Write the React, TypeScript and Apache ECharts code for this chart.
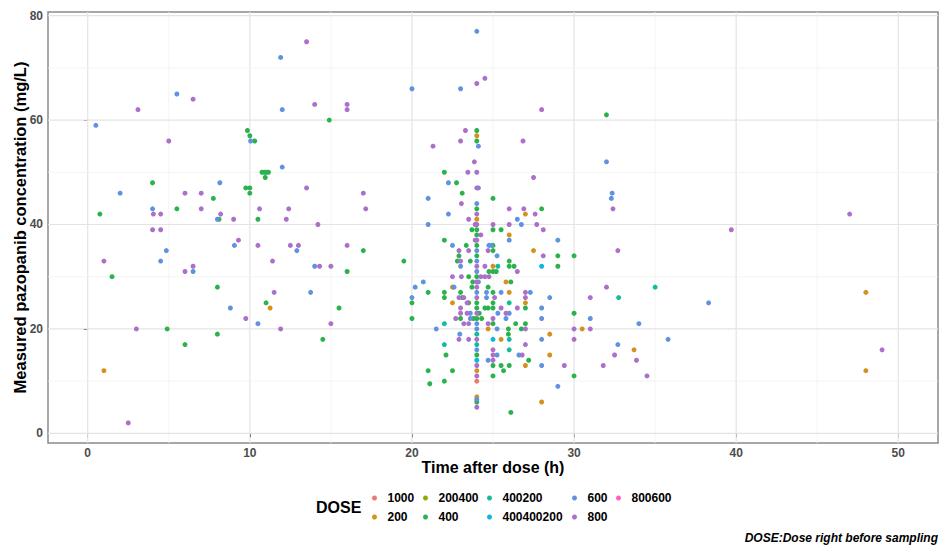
import React, { useEffect, useRef } from "react";
import * as echarts from "echarts";

// Dose groups, in legend order, and their colours
const DOSES = ["1000", "200", "200400", "400", "400200", "400400200", "600", "800", "800600"];
const DOSE_COLORS = ["#F0776D", "#D4921C", "#93AA00", "#2BB24C", "#14BC9C", "#12B4E0", "#5F93E0", "#AC6FCC", "#FF61C3"];

// [time after dose (h), measured concentration (mg/L)]
const dose1000 = [[24, 10]];

const dose200 = [
  [1, 12], [11.25, 24], [22.5, 28], [22.5, 25], [24, 57], [24, 41], [24, 12], [24, 7],
  [24.7, 20], [25, 32], [25.5, 18], [25.8, 29], [26, 38], [26, 27], [27, 42], [27, 25],
  [27, 13], [27.5, 35], [28, 6], [28.5, 19], [28.5, 15], [30.5, 20], [33.7, 16], [48, 27], [48, 12],
];

const dose200400: number[][] = [];

const dose400 = [
  [0.75, 42], [1.5, 30], [4, 48], [4.9, 20], [5.5, 43], [6, 17], [7.75, 45], [8, 28], [8, 19],
  [8.1, 41], [9.75, 47], [9.85, 58], [10, 47], [10, 57], [10, 46], [10.3, 56], [10.5, 41],
  [10.75, 50], [10.9, 50], [11, 50], [11.15, 50], [10.95, 49], [11, 25], [14.5, 18], [14.9, 60],
  [15.5, 24], [16, 31], [17, 35], [19.5, 33], [20, 25], [20, 22], [21, 27], [21, 12], [21.1, 9.5],
  [22, 50], [22, 37], [22, 27], [22, 26], [22.1, 15], [22, 10], [22.5, 12], [22.75, 48], [22.9, 34],
  [22.8, 33], [23, 27], [23.1, 26], [23, 22], [23.1, 46], [23.35, 36], [23.5, 25], [23.6, 33],
  [23.5, 30], [23.8, 22], [23.7, 28], [23.7, 39], [23.75, 29],
  [24, 58], [24, 56], [24, 43], [24, 39], [24, 38], [24, 36], [24, 34], [24, 30], [24, 25],
  [24, 24], [24, 22], [24, 15], [24, 6],
  [24.15, 23], [24.3, 22], [24.5, 24], [24.7, 24], [24.75, 31], [24.7, 28], [25, 45], [25, 39],
  [25.5, 39], [25, 36], [25, 35], [25, 31], [25.2, 31], [25, 27], [25, 25], [25, 24], [25, 21],
  [25, 13], [25.5, 13], [26, 13], [25, 11], [25.65, 12], [25.95, 20], [25.95, 19], [26, 33],
  [26, 32], [26.3, 32], [26.1, 29], [26.4, 21], [26.75, 20], [27, 21], [27, 24], [27.2, 14],
  [26.1, 4], [28, 43], [29, 34], [30, 34], [29, 32], [30, 23], [30, 11], [32, 61],
];

const dose400200 = [
  [22, 21], [22, 17], [24, 19], [24, 17], [25.3, 32], [26, 25], [26, 18], [26, 16], [32.75, 26], [35, 28],
];

const dose400400200 = [[24, 14], [25, 18], [28, 32]];

const dose600 = [
  [0.5, 59], [2, 46], [4, 43], [4.5, 33], [4.85, 35], [5.5, 65], [6.5, 31], [8, 41], [8.15, 48],
  [8.8, 24], [9.05, 36], [10.05, 56], [10.5, 21], [11.9, 72], [12, 62], [12, 51], [12.9, 35],
  [13.75, 27], [14, 32], [20, 66], [20, 26], [20.2, 28], [20.7, 29], [21, 45], [21, 40], [21.5, 20],
  [22.25, 48], [22.25, 42], [22.5, 36], [22.6, 28], [23, 66], [23, 32], [22.95, 19], [23.6, 23],
  [23.6, 22],
  [24, 77], [24.1, 55], [24.1, 47], [24, 44], [24, 35], [24, 33], [24, 31], [24.1, 29], [24, 27],
  [24, 21], [24, 20], [24, 16], [24, 6.5],
  [24.6, 27], [24.6, 26], [24.75, 36], [24.9, 36], [24.7, 14], [25.25, 34], [25.25, 20], [25.25, 15],
  [25.3, 23], [25.5, 27], [25.8, 22], [26, 23], [26, 37], [26.5, 41], [26.75, 40], [26.6, 15],
  [27.3, 27], [28, 24], [28, 22], [28, 18], [28, 13], [28.5, 26], [29, 37], [29, 9], [31, 22],
  [32, 52], [32.35, 46], [32.3, 45], [32.7, 17], [34, 21], [35.8, 18], [38.3, 25],
];

const dose800 = [
  [1, 33], [2.5, 2], [3, 20], [3.1, 62], [4.05, 42], [4, 39], [4.5, 42], [4.5, 39], [5, 56], [6, 46],
  [6, 31], [6.5, 64], [6.5, 32], [7, 46], [7, 43], [8.2, 42], [9, 41], [9.3, 37], [9.75, 22],
  [10.5, 36], [10.6, 43], [11.4, 33], [11.5, 27], [11.9, 20], [12.25, 41], [12.4, 43], [12.5, 36],
  [13, 36], [13.5, 75], [13.5, 47], [14, 63], [14.2, 40], [14.3, 32], [15, 32], [15, 21], [16, 36],
  [16, 63], [16, 62], [17, 46], [17.15, 43], [21.3, 55], [22.5, 30], [22.7, 22], [22.9, 35],
  [22.9, 26], [22.9, 18], [23, 33], [23, 24], [23, 23], [23.05, 44], [23, 56], [23.3, 58],
  [23.45, 50], [23.5, 41], [23.85, 52], [23.9, 37], [23.9, 40], [23.5, 35], [23.4, 25], [23.4, 23],
  [23.5, 18], [23.2, 21], [23.5, 21], [23.05, 30], [23.2, 26],
  [24, 67], [24, 50], [24, 47], [24, 42], [24, 40], [24, 37], [24, 32], [24, 29], [24, 28], [24, 26],
  [24, 23], [24, 18], [24, 13], [24, 11], [24, 5],
  [24.5, 68], [24.25, 38], [24.5, 32], [24.7, 35], [24.25, 30], [24.5, 30], [24.75, 30], [25.1, 26],
  [25, 40], [25, 22], [24.7, 21], [25, 16], [25, 15], [25, 14], [25.5, 24], [25.8, 23], [26, 43],
  [26, 40], [26.85, 56], [26.9, 43], [26.5, 31], [26.5, 24], [26.8, 15], [27, 27], [27, 26], [27, 20],
  [27, 17], [27.5, 49], [27.6, 42], [27.7, 40], [28, 62], [28.1, 39], [28.1, 34], [29.4, 13], [30, 20],
  [30, 18], [31, 26], [31, 20], [31.8, 13], [32, 28], [32.4, 43], [32.5, 15], [32.7, 35], [33.85, 14],
  [34.5, 11], [39.7, 39], [47, 42], [49, 16],
];

const dose800600: number[][] = [];

const SERIES_DATA = [dose1000, dose200, dose200400, dose400, dose400200, dose400400200, dose600, dose800, dose800600];

// Axis ticks and panel grid
const X_TICKS = [0, 10, 20, 30, 40, 50];
const Y_TICKS = [0, 20, 40, 60, 80];
const X_MINOR = [5, 15, 25, 35, 45];
const Y_MINOR = [10, 30, 50, 70];
const X_RANGE = [-2.45, 52.45];
const Y_RANGE = [-1.85, 80.7];

// Legend laid out column by column, two rows
const LEGEND_COLUMNS = [["1000", "200"], ["200400", "400"], ["400200", "400400200"], ["600", "800"], ["800600"]];
const LEGEND_LEFT = [372, 423, 487, 572, 616];

const FONT = '"Liberation Sans", Arial, Helvetica, sans-serif';

export default function App() {
  const ref = useRef<HTMLDivElement>(null);

  useEffect(() => {
    if (!ref.current) return;
    const chart = echarts.init(ref.current, undefined, { renderer: "svg" });

    const gridData = [
      ...X_TICKS.map((v) => [v, 0, 1]),
      ...X_MINOR.map((v) => [v, 0, 0]),
      ...Y_TICKS.map((v) => [v, 1, 1]),
      ...Y_MINOR.map((v) => [v, 1, 0]),
    ];

    const gridSeries = {
      type: "custom",
      name: "panel-grid",
      silent: true,
      z: 1,
      data: gridData,
      renderItem: (_params: any, api: any) => {
        const v = api.value(0);
        const dir = api.value(1);
        const major = api.value(2) === 1;
        const a = dir === 0 ? api.coord([v, Y_RANGE[0]]) : api.coord([X_RANGE[0], v]);
        const b = dir === 0 ? api.coord([v, Y_RANGE[1]]) : api.coord([X_RANGE[1], v]);
        return {
          type: "line",
          shape: { x1: a[0], y1: a[1], x2: b[0], y2: b[1] },
          style: { stroke: major ? "#E4E4E4" : "#F1F1F1", lineWidth: major ? 1.2 : 0.8 },
        };
      },
    };

    const scatterSeries = DOSES.map((name, i) => ({
      type: "scatter",
      name,
      data: SERIES_DATA[i],
      symbol: "circle",
      symbolSize: 5,
      z: 3,
      itemStyle: { color: DOSE_COLORS[i], opacity: 1 },
      emphasis: { disabled: true },
    }));

    const tickLabel = { color: "#4D4D4D", fontSize: 12, fontWeight: "bold", fontFamily: FONT };

    chart.setOption({
      animation: false,
      color: DOSE_COLORS,
      textStyle: { fontFamily: FONT },
      grid: {
        left: 48,
        top: 12,
        width: 890,
        height: 431,
        show: true,
        backgroundColor: "#FFFFFF",
        borderColor: "#8A8A8A",
        borderWidth: 1.5,
        containLabel: false,
        outerBoundsMode: "none",
      },
      xAxis: {
        type: "value",
        min: X_RANGE[0],
        max: X_RANGE[1],
        name: "Time after dose (h)",
        nameLocation: "middle",
        nameGap: 16,
        nameMoveOverlap: false,
        nameTextStyle: { fontSize: 16, fontWeight: "bold", color: "#000", fontFamily: FONT },
        axisLine: { show: false },
        axisTick: { show: true, customValues: X_TICKS, length: 4, lineStyle: { color: "#333", width: 1 } },
        axisLabel: { ...tickLabel, customValues: X_TICKS, margin: 4 },
        splitLine: { show: false },
      },
      yAxis: {
        type: "value",
        min: Y_RANGE[0],
        max: Y_RANGE[1],
        name: "Measured pazopanib concentration (mg/L)",
        nameLocation: "middle",
        nameGap: 20,
        nameMoveOverlap: false,
        nameTextStyle: { fontSize: 16.5, fontWeight: "bold", color: "#000", fontFamily: FONT },
        axisLine: { show: false },
        axisTick: { show: true, customValues: Y_TICKS, length: 4, lineStyle: { color: "#333", width: 1 } },
        axisLabel: { ...tickLabel, customValues: Y_TICKS, margin: 5 },
        splitLine: { show: false },
      },
      legend: LEGEND_COLUMNS.map((col, i) => ({
        data: col,
        orient: "vertical",
        left: LEGEND_LEFT[i],
        top: 492,
        padding: 0,
        itemGap: 7,
        itemWidth: 16,
        itemHeight: 5,
        icon: "circle",
        selectedMode: false,
        textStyle: { fontSize: 12, fontWeight: "bold", color: "#000", fontFamily: FONT },
      })),
      graphic: [
        {
          type: "text",
          x: 316,
          y: 507,
          style: {
            text: "DOSE",
            font: `bold 16px ${FONT}`,
            fill: "#000",
            verticalAlign: "middle",
          },
        },
        {
          type: "text",
          x: 938,
          y: 538,
          style: {
            text: "DOSE:Dose right before sampling",
            font: `italic bold 12px ${FONT}`,
            fill: "#000",
            align: "right",
            verticalAlign: "middle",
          },
        },
      ],
      series: [gridSeries, ...scatterSeries],
    });

    return () => chart.dispose();
  }, []);

  return (
    <div
      ref={ref}
      style={{ position: "fixed", left: 0, top: 0, width: 941, height: 546, background: "#fff" }}
    />
  );
}
